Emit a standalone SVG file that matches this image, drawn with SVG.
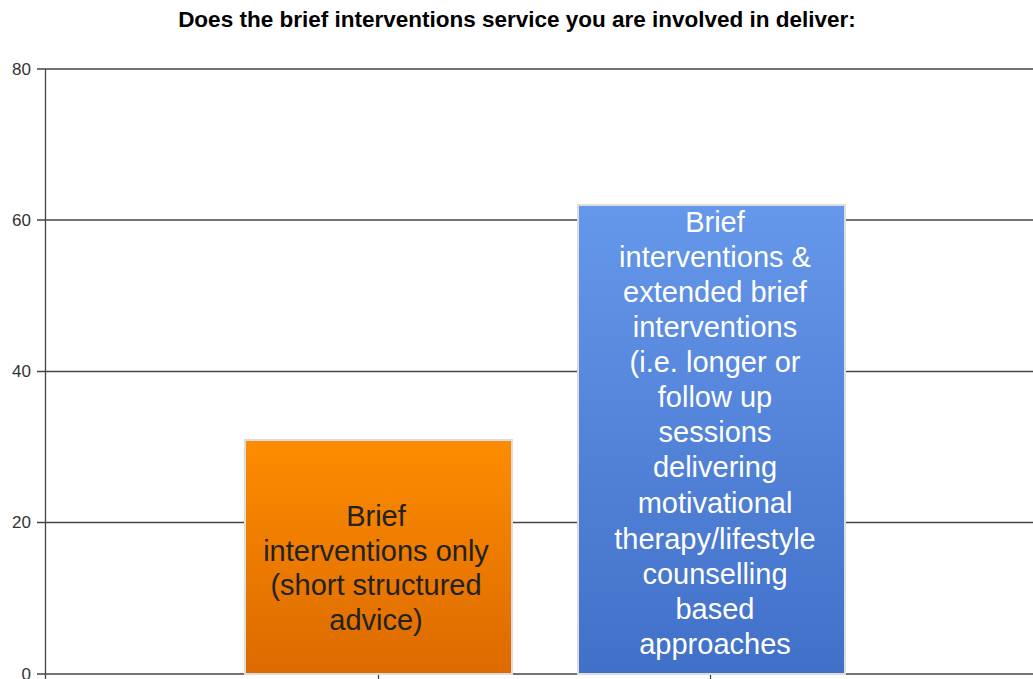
<svg xmlns="http://www.w3.org/2000/svg" width="1033" height="679" viewBox="0 0 1033 679">
<style>
.grid{stroke:#444;stroke-width:1.3}
.tick{font-family:"Liberation Sans",Arial,sans-serif;font-size:17px;fill:#333;text-anchor:end}
.lbl{font-family:"Liberation Sans",Arial,sans-serif;font-size:29px;text-anchor:middle}
.title{font-family:"Liberation Sans",Arial,sans-serif;font-size:22.5px;font-weight:bold;fill:#000;text-anchor:middle}
</style>
<defs>
<linearGradient id="gO" x1="0" y1="0" x2="0" y2="1"><stop offset="0" stop-color="#FD8C00"/><stop offset="1" stop-color="#DC6A00"/></linearGradient>
<linearGradient id="gB" x1="0" y1="0" x2="0" y2="1"><stop offset="0" stop-color="#6597EA"/><stop offset="1" stop-color="#4170C8"/></linearGradient>
</defs>
<rect width="1033" height="679" fill="#fff"/>
<text class="title" x="517" y="27">Does the brief interventions service you are involved in deliver:</text>
<g id="axes">
<line class="grid" x1="37" y1="69" x2="1033" y2="69"/>
<line class="grid" x1="37" y1="220" x2="1033" y2="220"/>
<line class="grid" x1="37" y1="371.5" x2="1033" y2="371.5"/>
<line class="grid" x1="37" y1="522.5" x2="1033" y2="522.5"/>
<line class="grid" x1="37" y1="674" x2="1033" y2="674"/>
<line class="grid" x1="45.5" y1="69" x2="45.5" y2="679"/>
<line class="grid" x1="378.5" y1="674" x2="378.5" y2="679"/>
<line class="grid" x1="710.5" y1="674" x2="710.5" y2="679"/>
<text class="tick" x="31" y="75">80</text>
<text class="tick" x="31" y="226">60</text>
<text class="tick" x="31" y="377">40</text>
<text class="tick" x="31" y="528">20</text>
<text class="tick" x="31" y="680">0</text>
</g>
<g id="bar1">
<rect x="245" y="440" width="267" height="234" fill="url(#gO)" stroke="#ddd" stroke-width="2"/>
<text class="lbl" fill="#222"><tspan x="376" y="526">Brief</tspan><tspan x="376" y="561">interventions only</tspan><tspan x="376" y="595">(short structured</tspan><tspan x="376" y="630">advice)</tspan></text>
</g>
<g id="bar2">
<rect x="578" y="205" width="267" height="469" fill="url(#gB)" stroke="#ddd" stroke-width="2"/>
<text class="lbl" fill="#fff"><tspan x="715" y="232">Brief</tspan><tspan x="715" y="267">interventions &amp;</tspan><tspan x="715" y="302">extended brief</tspan><tspan x="715" y="337">interventions</tspan><tspan x="715" y="372">(i.e. longer or</tspan><tspan x="715" y="407">follow up</tspan><tspan x="715" y="442">sessions</tspan><tspan x="715" y="477">delivering</tspan><tspan x="715" y="513">motivational</tspan><tspan x="715" y="549">therapy/lifestyle</tspan><tspan x="715" y="584">counselling</tspan><tspan x="715" y="619">based</tspan><tspan x="715" y="654">approaches</tspan></text>
</g>
<g id="connectors"></g>
</svg>
